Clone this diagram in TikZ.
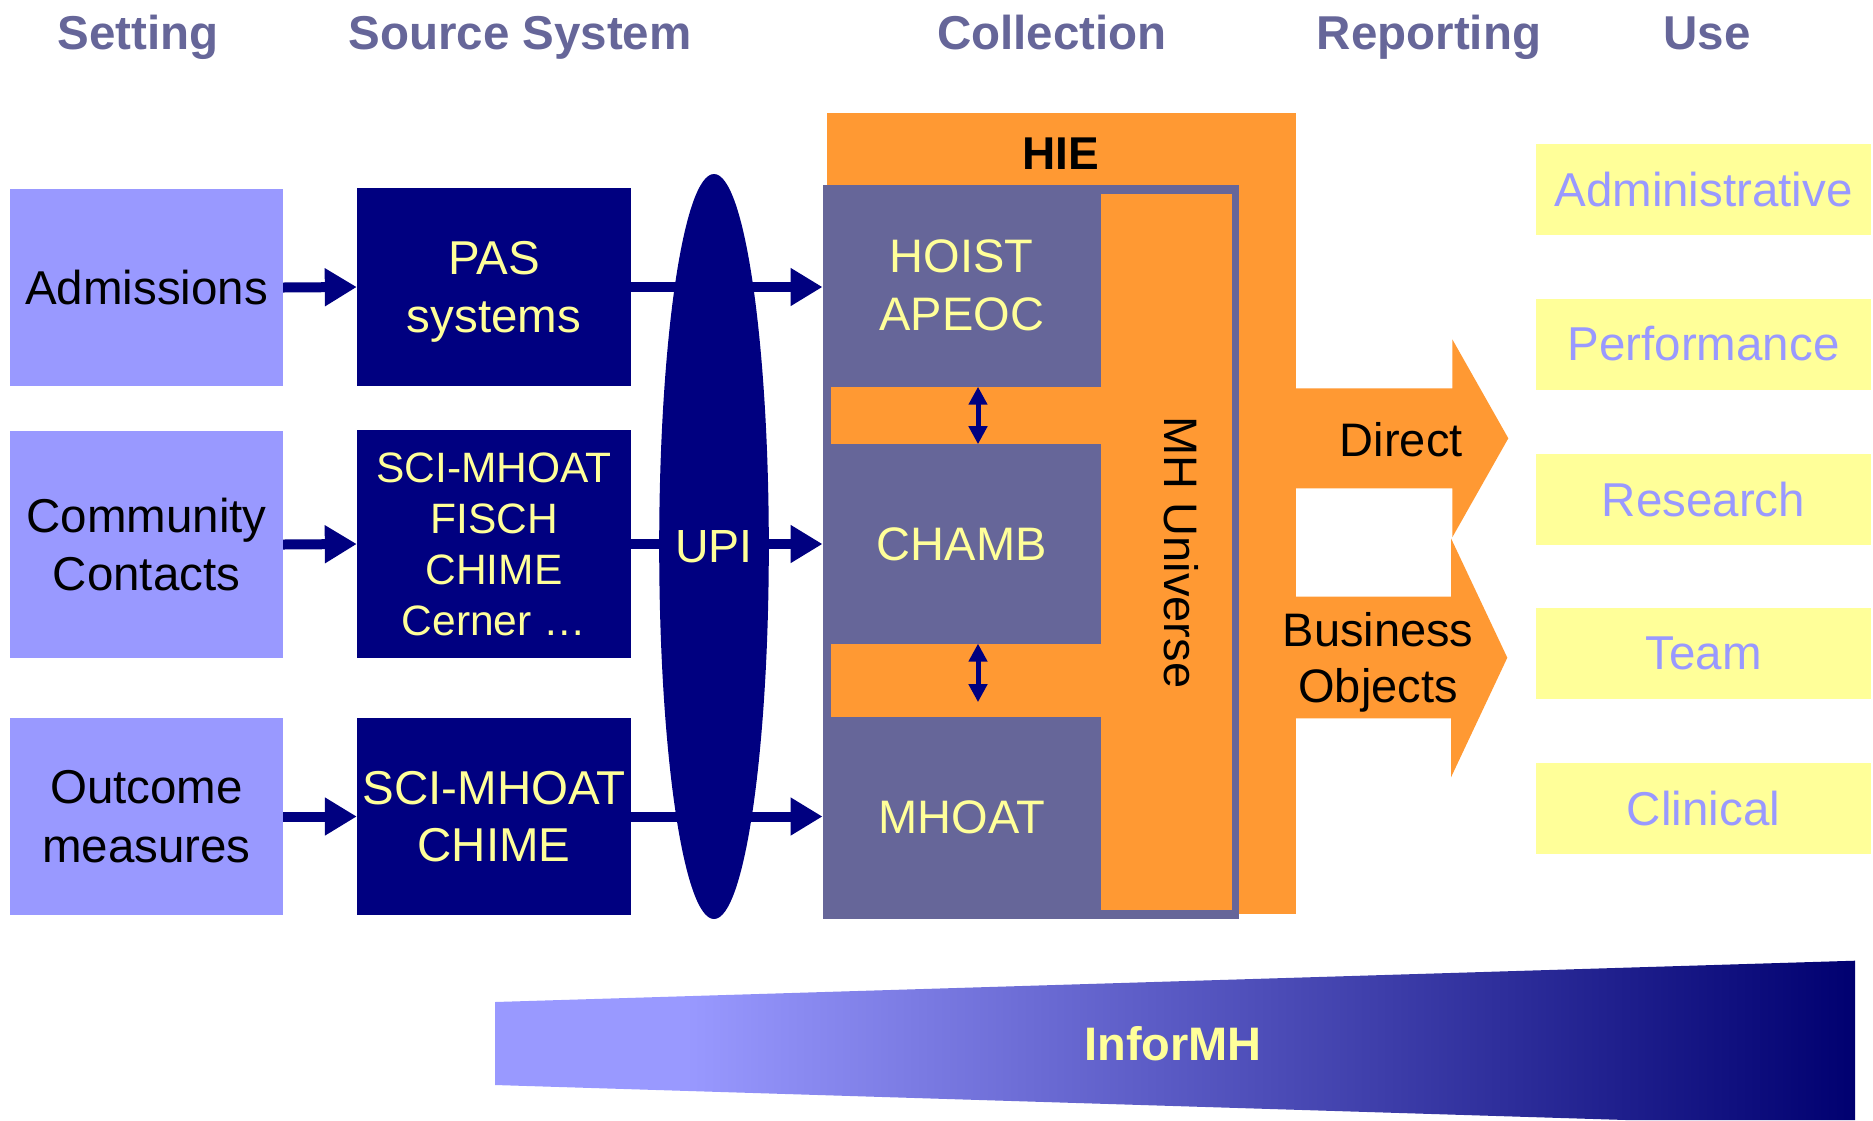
\documentclass[tikz,border=0pt]{standalone}
\usepackage{fontspec}
\setmainfont{Liberation Sans}
\usetikzlibrary{arrows.meta,shapes.geometric}
\definecolor{hdr}{HTML}{666699}
\definecolor{lp}{HTML}{9999FF}
\definecolor{navyb}{HTML}{000080}
\definecolor{org}{HTML}{FF9933}
\definecolor{ylw}{HTML}{FFFF99}
\definecolor{hiep}{HTML}{666699}
\definecolor{darknavy}{HTML}{000070}
\newcommand\fsz[2]{\fontsize{#1}{#2}\selectfont}
\pgfdeclarehorizontalshading{informh}{100bp}{color(0bp)=(lp); color(32bp)=(lp); color(75bp)=(darknavy); color(100bp)=(darknavy)}
\begin{document}
\begin{tikzpicture}[x=1pt,y=-1pt,
  hdrtext/.style={font=\fsz{47.5}{57}\bfseries, text=hdr, anchor=base, inner sep=0pt},
  setbox/.style={fill=lp, text=black, minimum width=273pt, inner sep=0pt, font=\fsz{47.5}{58.5}, align=center},
  srcbox/.style={fill=navyb, text=ylw, minimum width=274pt, inner sep=0pt, align=center},
  subbox/.style={fill=hiep, text=ylw, minimum width=278pt, inner sep=0pt, font=\fsz{47}{58.5}, align=center},
  usebox/.style={fill=ylw, text=lp, minimum width=335pt, minimum height=91pt, inner sep=0pt, font=\fsz{47.5}{57}},
  flow/.style={line width=10pt, navyb, -{Triangle[length=32pt,width=36pt]}},
  dbl/.style={line width=5pt, navyb, {Triangle[length=18pt,width=18pt]}-{Triangle[length=18pt,width=18pt]}},
  blk/.style={text=black, inner sep=0pt, font=\fsz{47}{56.7}, align=center}
]
\useasboundingbox (0,0) rectangle (1873,1120);
\fill[white] (0,0) rectangle (1873,1120);

% headers
\node[hdrtext] (hset) at (138,49) {Setting};
\node[hdrtext] (hsrc) at (520,49) {Source System};
\node[hdrtext] (hcol) at (1052,49) {Collection};
\node[hdrtext] (hrep) at (1429,49) {Reporting};
\node[hdrtext] (huse) at (1707,49) {Use};

% setting boxes
\node[setbox, minimum height=197pt] (adm) at (146.5,287.5) {Admissions};
\node[setbox, minimum height=227pt] (com) at (146.5,544.5) {Community\\Contacts};
\node[setbox, minimum height=197pt] (out) at (146.5,816.5) {Outcome\\measures};

% source boxes
\node[srcbox, minimum height=198pt, font=\fsz{47.5}{58.5}, text depth=0pt] (pas) at (494,287) {PAS\\systems};
\node[srcbox, minimum height=228pt, font=\fsz{42.5}{51}] (sci1) at (494,544) {SCI-MHOAT\\FISCH\\CHIME\\Cerner …};
\node[srcbox, minimum height=197pt, font=\fsz{47.5}{57}] (sci2) at (494,816.5) {SCI-MHOAT\\CHIME};

% HIE
\fill[org] (827,113.4) rectangle (1295.7,914);
\node[anchor=base, inner sep=0pt, font=\fsz{46}{55}\bfseries] (hie) at (1060.5,169.6) {HIE};
\fill[hiep] (822.7,184.6) rectangle (1239,918.6);
\fill[org] (1100.7,193.7) rectangle (1231.7,909.6);
\fill[org] (831,386.5) rectangle (1101,444.3);
\fill[org] (831,643.5) rectangle (1101,716.9);
\node[subbox, minimum height=202pt] (hoist) at (961.7,285.5) {HOIST\\APEOC};
\node[subbox, minimum height=199pt] (chamb) at (961.7,543.9) {CHAMB};
\node[subbox, minimum height=201.7pt] (mhoat) at (961.7,817.7) {MHOAT};
\node[blk, rotate=-90] (mhu) at (1181.7,552.5) {MH Universe};
\draw[dbl] ([xshift=16.3pt]hoist.south) -- ([xshift=16.3pt]chamb.north);
\draw[dbl, shorten >=14.5pt] ([xshift=16.3pt]chamb.south) -- ([xshift=16.3pt]mhoat.north);

% flows
\draw[flow] (adm.east) -- (pas.west);
\draw[flow] (com.east) -- (sci1.west);
\draw[flow] (out.east) -- (sci2.west);
\draw[flow] (pas.east) -- (pas.east -| hoist.west);
\draw[flow] (sci1.east) -- (sci1.east -| chamb.west);
\draw[flow] (sci2.east) -- (sci2.east -| mhoat.west);

% UPI
\node[ellipse, fill=navyb, text=ylw, minimum width=106pt, minimum height=745pt, inner sep=0pt, font=\fsz{46.5}{55}] (upi) at (714,546.5) {UPI};

% reporting arrows
\fill[org] (1290,388.3) -- (1452.3,388.3) -- (1452.3,339.3) -- (1508.3,438.3) -- (1452.3,537.3) -- (1452.3,488.3) -- (1290,488.3) -- cycle;
\fill[org] (1290,596.7) -- (1451,596.7) -- (1451,538.3) -- (1507.3,657.7) -- (1451,777.3) -- (1451,718.3) -- (1290,718.3) -- cycle;
\node[blk, anchor=base] (direct) at (1401.3,456) {Direct};
\node[blk] (bo) at (1378,662.4) {Business\\Objects};

% use boxes
\node[usebox] (u1) at (1703.5,189.9) {Administrative};
\node[usebox] (u2) at (1703.5,344) {Performance};
\node[usebox] (u3) at (1703.5,499.3) {Research};
\node[usebox] (u4) at (1703.5,653.4) {Team};
\node[usebox] (u5) at (1703.5,808.6) {Clinical};

% InforMH band
\shade[shading=informh] (495,1002) -- (1855,960.7) -- (1855,1120) -- (1626,1120) -- (495,1085) -- cycle;
\node[anchor=base, text=ylw, inner sep=0pt, font=\fsz{47}{55}\bfseries] (inf) at (1173,1060.7) {InforMH};
\end{tikzpicture}
\end{document}
